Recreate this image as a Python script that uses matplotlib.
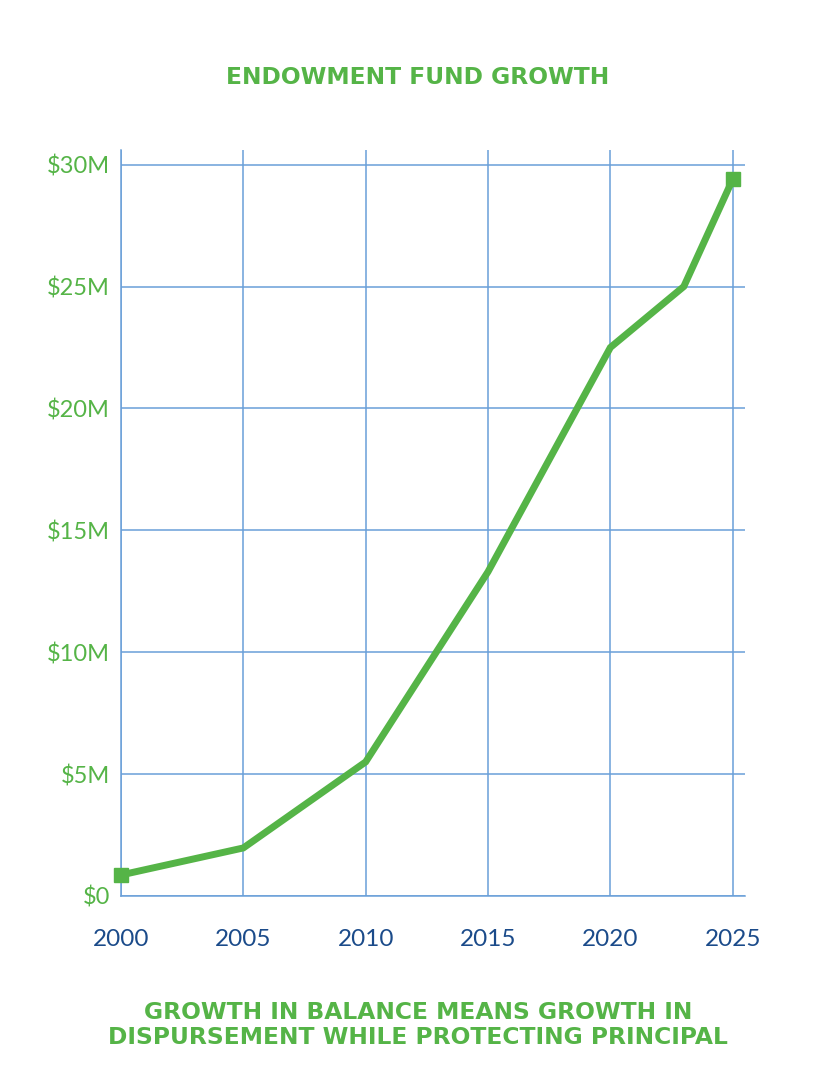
import matplotlib
matplotlib.use("Agg")
import matplotlib.pyplot as plt
from matplotlib.ticker import FuncFormatter

# Endowment balance in $ millions
years = [2000, 2005, 2010, 2015, 2020, 2023, 2025]
balance = [0.86, 1.97, 5.5, 13.3, 22.5, 25.0, 29.4]

x_ticks = [2000, 2005, 2010, 2015, 2020, 2025]
y_ticks = [0, 5, 10, 15, 20, 25, 30]

green = "#55B447"
blue_grid = "#6A9FD8"
navy = "#1B4B8A"

plt.rcParams['font.family'] = ['Lato', 'DejaVu Sans']

fig = plt.figure(figsize=(8.36, 10.8), dpi=100)
ax = fig.add_axes([0.1447, 0.1704, 0.7464, 0.6907])

ax.plot(years, balance, color=green, linewidth=5, solid_joinstyle='miter', zorder=3)
ax.plot([years[0], years[-1]], [balance[0], balance[-1]], linestyle='none',
        marker='s', markersize=10, color=green, zorder=4, clip_on=False)

ax.set_xlim(2000, 2025.5)
ax.set_ylim(0, 30.6)
ax.set_xticks(x_ticks)
ax.set_yticks(y_ticks)
ax.yaxis.set_major_formatter(FuncFormatter(lambda v, p: f"${int(v)}" + ("M" if v else "")))
ax.grid(True, color=blue_grid, linewidth=1.1)
ax.set_axisbelow(True)
for side in ['top', 'right']:
    ax.spines[side].set_visible(False)
for side in ['left', 'bottom']:
    ax.spines[side].set_color(blue_grid)
    ax.spines[side].set_linewidth(1.1)
ax.tick_params(axis='both', length=0)
ax.tick_params(axis='y', labelsize=17, labelcolor=green, pad=8)
ax.tick_params(axis='x', labelsize=17.5, labelcolor=navy, pad=24)

fig.text(0.5, 1 - 77 / 1080, "ENDOWMENT FUND GROWTH", ha='center', va='center',
         color=green, fontsize=16.8, fontweight='bold', family='DejaVu Sans')
fig.text(0.5, 1 - 1025 / 1080,
         "GROWTH IN BALANCE MEANS GROWTH IN\nDISPURSEMENT WHILE PROTECTING PRINCIPAL",
         ha='center', va='center', color=green, fontsize=16.8, fontweight='bold',
         family='DejaVu Sans', linespacing=1.15)

fig.savefig("out.png", dpi=100)
